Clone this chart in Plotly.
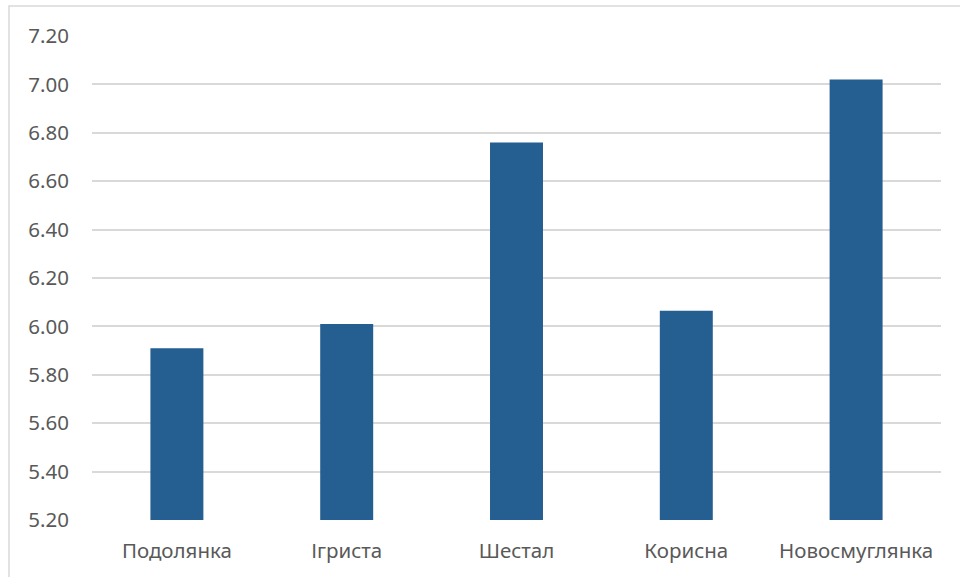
import plotly.graph_objects as go

categories = ["Подолянка", "Ігриста", "Шестал", "Корисна", "Новосмуглянка"]
values = [5.91, 6.01, 6.76, 6.065, 7.02]
y_ticks = [5.2, 5.4, 5.6, 5.8, 6.0, 6.2, 6.4, 6.6, 6.8, 7.0, 7.2]
y_tick_labels = ["%.2f" % v for v in y_ticks]

BAR = "#255E91"
TEXT = "#595959"
GRID = "#D9D9D9"
FONT = "Noto Sans"

fig = go.Figure(
    go.Bar(
        x=categories,
        y=values,
        marker=dict(color=BAR, line=dict(width=0)),
    )
)

L, R, T, B = 92, 19, 36, 57
W, H = 960, 577
pw = W - L - R
ph = H - T - B

fig.update_layout(
    width=W,
    height=H,
    margin=dict(l=L, r=R, t=T, b=B, pad=0),
    paper_bgcolor="white",
    plot_bgcolor="white",
    bargap=0.688,
    showlegend=False,
    font=dict(family=FONT, size=21, color=TEXT),
    xaxis=dict(
        showgrid=False,
        showline=False,
        zeroline=False,
        ticks="",
        ticklabelstandoff=16,
        tickfont=dict(family=FONT, size=20.5, color=TEXT),
    ),
    yaxis=dict(
        range=[5.2, 7.2],
        tickvals=y_ticks,
        ticktext=y_tick_labels,
        showgrid=True,
        gridcolor=GRID,
        gridwidth=1.5,
        zeroline=False,
        showline=False,
        ticks="",
        ticklabelstandoff=22,
        tickfont=dict(family=FONT, size=20.5, color=TEXT),
    ),
    shapes=[
        dict(
            type="rect",
            xref="paper",
            yref="paper",
            x0=(9 - L) / pw,
            x1=(W + 10 - L) / pw,
            y0=(H - B - (H + 10)) / ph,
            y1=(H - B - 6) / ph,
            line=dict(color=GRID, width=1.5),
            fillcolor="rgba(0,0,0,0)",
            layer="below",
        )
    ],
)

fig.write_html("out.html")
